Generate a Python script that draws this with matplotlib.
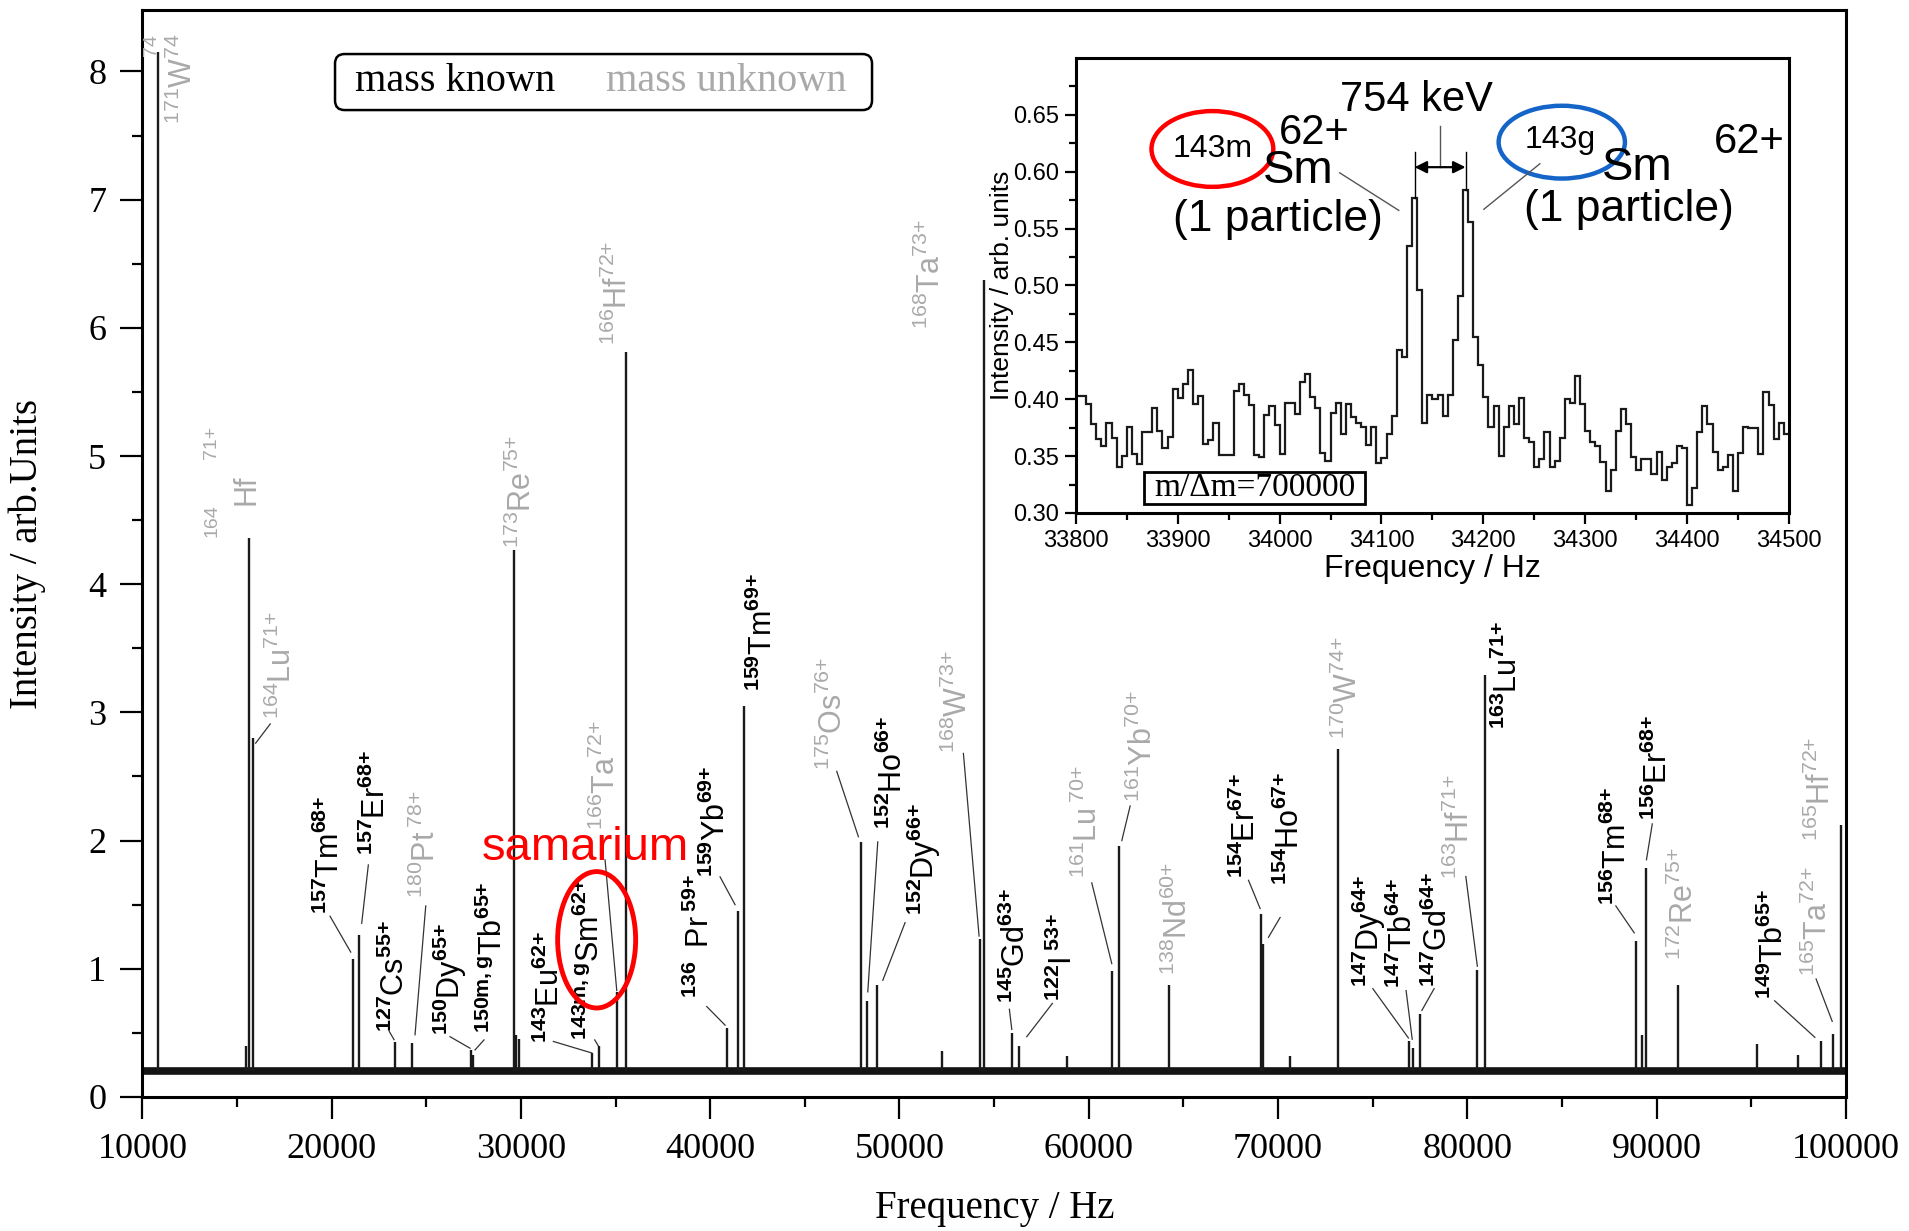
import numpy as np
import matplotlib
matplotlib.use("Agg")
import matplotlib.pyplot as plt
from matplotlib.patches import Ellipse, FancyBboxPatch, Rectangle

plt.rcParams["font.family"] = ["Liberation Serif", "DejaVu Serif"]
plt.rcParams["mathtext.fontset"] = "custom"
plt.rcParams["mathtext.rm"] = "Liberation Sans"
plt.rcParams["mathtext.sf"] = "Liberation Sans"
plt.rcParams["mathtext.it"] = "Liberation Sans:italic"
plt.rcParams["mathtext.bf"] = "Liberation Sans:bold"

# ---------------- Schottky spectrum (revolution frequency, Hz) ----------------
baseline_level = 0.2
peak_freq = [10840, 15450, 15650, 15854, 21112, 21445, 23348, 24230, 27364, 27480,
             29620, 29750, 29900, 33741, 34100, 35062, 35560, 40874, 41455, 41806,
             47955, 48271, 48800, 52260, 54259, 54470, 55933, 56337, 58840, 61250,
             61620, 64262, 69106, 69230, 70650, 73193, 76928, 77133, 77477, 80531,
             80933, 88922, 89207, 89466, 91146, 95333, 97455, 98671, 99316, 99744]
peak_height = [8.15, 0.40, 4.36, 2.80, 1.075, 1.26, 0.43, 0.42, 0.37, 0.33,
               4.27, 0.48, 0.45, 0.34, 0.40, 0.82, 5.81, 0.54, 1.45, 3.05,
               1.99, 0.75, 0.875, 0.36, 1.235, 6.37, 0.50, 0.40, 0.32, 0.98,
               1.96, 0.876, 1.43, 1.19, 0.32, 2.714, 0.44, 0.38, 0.65, 0.99,
               3.29, 1.22, 0.48, 1.79, 0.875, 0.41, 0.33, 0.44, 0.49, 2.125]

x_ticks = [10000, 20000, 30000, 40000, 50000, 60000, 70000, 80000, 90000, 100000]
y_ticks = [0, 1, 2, 3, 4, 5, 6, 7, 8]

# Ion identifications: label, known mass?
ion_labels = [
    (r"$^{171}\mathrm{W}^{74}$", False),
    (r"$^{164}\mathrm{Lu}^{71{+}}$", False),
    (r"$^{\mathbf{157}}\mathrm{Tm}^{\mathbf{68{+}}}$", True),
    (r"$^{\mathbf{157}}\mathrm{Er}^{\mathbf{68{+}}}$", True),
    (r"$^{\mathbf{127}}\mathrm{Cs}^{\mathbf{55{+}}}$", True),
    (r"$^{180}\mathrm{Pt}^{\;78{+}}$", False),
    (r"$^{\mathbf{150}}\mathrm{Dy}^{\mathbf{65{+}}}$", True),
    (r"$^{\mathbf{150m,g}}\mathrm{Tb}^{\mathbf{65{+}}}$", True),
    (r"$^{173}\mathrm{Re}^{75{+}}$", False),
    (r"$^{\mathbf{143}}\mathrm{Eu}^{\mathbf{62{+}}}$", True),
    (r"$^{\mathbf{143m,g}}\mathrm{Sm}^{\mathbf{62{+}}}$", True),
    (r"$^{166}\mathrm{Ta}^{72{+}}$", False),
    (r"$^{166}\mathrm{Hf}^{72{+}}$", False),
    (r"$^{\mathbf{136}}\;\;\mathrm{Pr}^{\;\mathbf{59{+}}}$", True),
    (r"$^{\mathbf{159}}\mathrm{Yb}^{\mathbf{69{+}}}$", True),
    (r"$^{\mathbf{159}}\mathrm{Tm}^{\mathbf{69{+}}}$", True),
    (r"$^{175}\mathrm{Os}^{76{+}}$", False),
    (r"$^{\mathbf{152}}\mathrm{Ho}^{\mathbf{66{+}}}$", True),
    (r"$^{\mathbf{152}}\mathrm{Dy}^{\mathbf{66{+}}}$", True),
    (r"$^{168}\mathrm{Ta}^{73{+}}$", False),
    (r"$^{168}\mathrm{W}^{73{+}}$", False),
    (r"$^{\mathbf{145}}\mathrm{Gd}^{\mathbf{63{+}}}$", True),
    (r"$^{\mathbf{122}}\mathrm{I}^{\;\mathbf{53{+}}}$", True),
    (r"$^{161}\mathrm{Lu}^{\;70{+}}$", False),
    (r"$^{161}\mathrm{Yb}^{70{+}}$", False),
    (r"$^{138}\mathrm{Nd}^{60{+}}$", False),
    (r"$^{\mathbf{154}}\mathrm{Er}^{\mathbf{67{+}}}$", True),
    (r"$^{\mathbf{154}}\mathrm{Ho}^{\mathbf{67{+}}}$", True),
    (r"$^{170}\mathrm{W}^{74{+}}$", False),
    (r"$^{\mathbf{147}}\mathrm{Dy}^{\mathbf{64{+}}}$", True),
    (r"$^{\mathbf{147}}\mathrm{Tb}^{\mathbf{64{+}}}$", True),
    (r"$^{\mathbf{147}}\mathrm{Gd}^{\mathbf{64{+}}}$", True),
    (r"$^{163}\mathrm{Hf}^{71{+}}$", False),
    (r"$^{\mathbf{163}}\mathrm{Lu}^{\mathbf{71{+}}}$", True),
    (r"$^{\mathbf{156}}\mathrm{Tm}^{\mathbf{68{+}}}$", True),
    (r"$^{\mathbf{156}}\mathrm{Er}^{\mathbf{68{+}}}$", True),
    (r"$^{172}\mathrm{Re}^{75{+}}$", False),
    (r"$^{\mathbf{149}}\mathrm{Tb}^{\mathbf{65{+}}}$", True),
    (r"$^{165}\mathrm{Ta}^{72{+}}$", False),
    (r"$^{165}\mathrm{Hf}^{72{+}}$", False),
]

# Label placement (x, y of the text foot) and leader line (from, to)
label_layout = [
    ((12146, 7.59), None),
    ((17398, 2.95), ((16755, 2.91), (15983, 2.76))),
    ((19913, 1.43), ((19913, 1.41), (21006, 1.13))),
    ((22380, 1.89), ((21937, 1.81), (21587, 1.355))),
    ((23348, 0.51), ((23047, 0.51), (23295, 0.447))),
    ((25022, 1.55), ((24970, 1.49), (24404, 0.485))),
    ((26254, 0.484), ((26254, 0.47), (27311, 0.38))),
    ((28542, 0.50), ((28050, 0.445), (27574, 0.367))),
    ((30100, 4.28), None),
    ((31538, 0.42), ((31713, 0.433), (33741, 0.343))),
    ((33651, 0.445), ((33900, 0.445), (34080, 0.40))),
    ((34534, 2.08), ((34444, 1.85), (35062, 0.83))),
    ((35147, 5.87), None),
    ((39463, 0.77), ((39818, 0.705), (40787, 0.56))),
    ((40346, 1.717), ((40520, 1.717), (41313, 1.50))),
    ((42800, 3.166), None),
    ((46508, 2.55), ((46686, 2.54), (47830, 2.03))),
    ((49678, 2.09), ((48853, 1.99), (48325, 0.82))),
    ((51263, 1.42), ((50296, 1.36), (49118, 0.91))),
    ((51706, 5.99), None),
    ((53113, 2.68), ((53378, 2.68), (54206, 1.255))),
    ((56198, 0.73), ((55807, 0.684), (55933, 0.527))),
    ((58660, 0.75), ((58080, 0.73), (56725, 0.47))),
    ((59982, 1.71), ((60160, 1.67), (61217, 1.04))),
    ((62888, 2.30), ((62187, 2.27), (61747, 2.0))),
    ((64737, 0.95), None),
    ((68353, 1.71), ((68442, 1.69), (69054, 1.47))),
    ((70640, 1.65), ((70111, 1.40), (69494, 1.245))),
    ((73694, 2.79), None),
    ((74808, 0.86), ((75008, 0.845), (76890, 0.46))),
    ((76627, 0.85), ((76767, 0.83), (77091, 0.45))),
    ((78449, 0.86), ((78249, 0.845), (77599, 0.675))),
    ((79659, 1.70), ((79923, 1.72), (80531, 1.02))),
    ((82190, 2.87), None),
    ((87950, 1.50), ((87849, 1.49), (88822, 1.28))),
    ((90074, 2.16), ((89774, 2.13), (89467, 1.85))),
    ((91490, 1.07), None),
    ((96241, 0.765), ((96241, 0.75), (98366, 0.465))),
    ((98572, 0.94), ((98430, 0.92), (99281, 0.59))),
    ((98720, 2.0), None),
]

# ---------------- Zoomed 143Sm62+ region: 5 Hz bins from 33800 Hz ----------------
zoom_bin_start = 33800
zoom_bin_width = 5
zoom_counts = [
    0.403, 0.403, 0.396, 0.378, 0.365, 0.359, 0.379, 0.366, 0.340, 0.350,
    0.376, 0.352, 0.343, 0.371, 0.371, 0.392, 0.372, 0.357, 0.367, 0.409,
    0.401, 0.413, 0.426, 0.396, 0.403, 0.361, 0.364, 0.379, 0.351, 0.351,
    0.351, 0.407, 0.413, 0.404, 0.395, 0.351, 0.349, 0.386, 0.394, 0.377,
    0.352, 0.397, 0.397, 0.387, 0.415, 0.422, 0.402, 0.392, 0.353, 0.346,
    0.388, 0.397, 0.369, 0.396, 0.384, 0.379, 0.376, 0.360, 0.376, 0.344,
    0.348, 0.369, 0.385, 0.443, 0.437, 0.535, 0.577, 0.496, 0.379, 0.404,
    0.400, 0.404, 0.385, 0.404, 0.452, 0.491, 0.584, 0.556, 0.455, 0.430,
    0.402, 0.376, 0.394, 0.350, 0.376, 0.394, 0.378, 0.401, 0.366, 0.362,
    0.340, 0.347, 0.371, 0.340, 0.346, 0.366, 0.400, 0.397, 0.420, 0.396,
    0.372, 0.362, 0.359, 0.345, 0.319, 0.338, 0.372, 0.391, 0.378, 0.349,
    0.338, 0.347, 0.347, 0.334, 0.354, 0.329, 0.340, 0.344, 0.359, 0.357,
    0.307, 0.322, 0.371, 0.394, 0.378, 0.354, 0.338, 0.340, 0.351, 0.319,
    0.353, 0.376, 0.375, 0.375, 0.352, 0.406, 0.395, 0.365, 0.379, 0.369,
]
sm_isomer_peak = 34132.5
sm_ground_peak = 34182.5
zoom_x_ticks = [33800, 33900, 34000, 34100, 34200, 34300, 34400, 34500]
zoom_y_ticks = [0.30, 0.35, 0.40, 0.45, 0.50, 0.55, 0.60, 0.65]

GRAY = "#a9a9a9"
INK = "#1a1a1a"
SANS = "Liberation Sans"

fig = plt.figure(figsize=(19.09, 12.31), dpi=100)
ax = fig.add_axes([0.0746, 0.1089, 0.8923, 0.8830])

# baseline noise band and peaks
ax.plot([x_ticks[0], x_ticks[-1]], [baseline_level, baseline_level],
        color="#141414", lw=5.5, solid_capstyle="butt", zorder=2)
ax.vlines(peak_freq, baseline_level, peak_height, color=INK, lw=1.7, zorder=3)

for (txt, known), (pos, leader) in zip(ion_labels, label_layout):
    col = "black" if known else GRAY
    ax.text(pos[0], pos[1], txt, rotation=90, ha="center", va="bottom",
            fontsize=22, color=col, zorder=4)
    if leader is not None:
        (x0, y0), (x1, y1) = leader
        ax.plot([x0, x1], [y0, y1], color="#333333", lw=0.9, zorder=4)

# split label of the 164Hf71+ line and the stray charge state at the top
ax.text(13661, 4.37, "164", rotation=90, ha="center", va="bottom",
        fontsize=14, color=GRAY, family=SANS)
ax.text(13661, 4.98, "71+", rotation=90, ha="center", va="bottom",
        fontsize=14, color=GRAY, family=SANS)
ax.text(15511, 4.62, "Hf", rotation=90, ha="center", va="bottom",
        fontsize=22, color=GRAY, family=SANS)
ax.text(10490, 8.12, "74", rotation=90, ha="center", va="bottom",
        fontsize=14, color=GRAY, family=SANS)

# samarium marker
ax.text(33418, 1.94, "samarium", ha="center", va="center", color="red",
        fontsize=34, family=SANS, zorder=6)
ax.add_patch(Ellipse((34000, 1.226), 4121, 1.064, fill=False, ec="red",
                     lw=3.5, zorder=6))

ax.set_xlim(x_ticks[0], x_ticks[-1])
ax.set_ylim(0, 8.48)
ax.set_xticks(x_ticks, labels=[str(v) for v in x_ticks])
ax.set_yticks(y_ticks, labels=[str(v) for v in y_ticks])
ax.set_xticks(np.arange(15000, 100000, 10000), minor=True)
ax.set_yticks(np.arange(0.5, 8.5, 1.0), minor=True)
ax.tick_params(which="major", direction="out", length=16, width=1.6,
               labelsize=26, pad=10, top=False, right=False)
ax.tick_params(which="minor", direction="out", length=7, width=1.6,
               top=False, right=False)
for sp in ax.spines.values():
    sp.set_linewidth(2.2)

fig.text(0.521, 0.018, "Frequency / Hz", ha="center", va="center", fontsize=28)
fig.text(0.0141, 0.55, "Intensity / arb.Units", ha="center", va="center",
         rotation=90, fontsize=28)

# legend box
fig.patches.append(FancyBboxPatch((0.1755, 0.9106), 0.2813, 0.0455,
                                  boxstyle="round,pad=0,rounding_size=0.005",
                                  mutation_aspect=1909 / 1231,
                                  transform=fig.transFigure, fc="white",
                                  ec="black", lw=1.8))
fig.text(0.1862, 0.9334, "mass known", ha="left", va="center", fontsize=29)
fig.text(0.3174, 0.9334, "mass unknown", ha="left", va="center", fontsize=29,
         color=GRAY)

# ---------------- inset ----------------
axi = fig.add_axes([0.5636, 0.5833, 0.3735, 0.3696])
axi.set_facecolor("white")
edges = zoom_bin_start + zoom_bin_width * np.arange(len(zoom_counts) + 1)
axi.stairs(zoom_counts, edges, baseline=None, color=INK, lw=1.6)

axi.set_xlim(zoom_x_ticks[0], zoom_x_ticks[-1])
axi.set_ylim(0.30, 0.70)
axi.set_xticks(zoom_x_ticks, labels=[str(v) for v in zoom_x_ticks],
               family=SANS, fontsize=17)
axi.set_yticks(zoom_y_ticks, labels=[f"{v:.2f}" for v in zoom_y_ticks],
               family=SANS, fontsize=17)
axi.set_xticks(np.arange(33850, 34500, 100), minor=True)
axi.set_yticks(np.arange(0.325, 0.70, 0.05), minor=True)
axi.tick_params(which="major", direction="out", length=8, width=1.6, pad=4)
axi.tick_params(which="minor", direction="out", length=5, width=1.6)
for sp in axi.spines.values():
    sp.set_linewidth(2.2)
axi.set_xlabel("Frequency / Hz", family=SANS, fontsize=23, labelpad=2)
axi.set_ylabel("Intensity / arb. units", family=SANS, fontsize=19)
axi.yaxis.set_label_coords(-0.087, 0.5)

# 754 keV splitting
top_m = zoom_counts[int((sm_isomer_peak - zoom_bin_start) // zoom_bin_width)]
top_g = zoom_counts[int((sm_ground_peak - zoom_bin_start) // zoom_bin_width)]
axi.plot([sm_isomer_peak, sm_isomer_peak], [top_m, 0.617], color="black", lw=1)
axi.plot([sm_ground_peak, sm_ground_peak], [top_g, 0.617], color="black", lw=1)
axi.annotate("", xy=(sm_isomer_peak, 0.604), xytext=(sm_ground_peak, 0.604),
             arrowprops=dict(arrowstyle="<|-|>", color="black", lw=1.6,
                             mutation_scale=18, shrinkA=0, shrinkB=0))
mid = 0.5 * (sm_isomer_peak + sm_ground_peak)
axi.plot([mid, mid], [0.604, 0.640], color="#555555", lw=1)
axi.text(34134, 0.663, "754 keV", ha="center", va="center", family=SANS,
         fontsize=30)

# isomer annotation
axi.text(34034, 0.634, "62+", ha="center", va="center", family=SANS, fontsize=30)
axi.text(34018, 0.601, "Sm", ha="center", va="center", family=SANS, fontsize=34)
axi.text(33998, 0.558, "(1 particle)", ha="center", va="center", family=SANS,
         fontsize=32)
axi.text(33934, 0.620, "143m", ha="center", va="center", family=SANS, fontsize=23)
axi.add_patch(Ellipse((33934, 0.620), 119.6, 0.0666, fill=False, ec="red",
                      lw=3.2, clip_on=False))
axi.plot([34059, 34117], [0.599, 0.566], color="#555555", lw=1)

# ground state annotation
axi.text(34461, 0.626, "62+", ha="center", va="center", family=SANS, fontsize=30)
axi.text(34351, 0.603, "Sm", ha="center", va="center", family=SANS, fontsize=34)
axi.text(34343, 0.567, "(1 particle)", ha="center", va="center", family=SANS,
         fontsize=32)
axi.text(34275, 0.628, "143g", ha="center", va="center", family=SANS, fontsize=23)
axi.add_patch(Ellipse((34277, 0.626), 124, 0.064, fill=False, ec="#1565c8",
                      lw=3.2, clip_on=False))
axi.plot([34200.5, 34255.5], [0.567, 0.607], color="#555555", lw=1)

# resolving power box
axi.add_patch(Rectangle((33867, 0.3075), 217, 0.0285, fc="white", ec="black",
                        lw=2, zorder=5))
axi.text(33975.5, 0.322, "m/\u0394m=700000", ha="center", va="center",
         fontsize=24, zorder=6)

fig.savefig("out.png", dpi=100)
